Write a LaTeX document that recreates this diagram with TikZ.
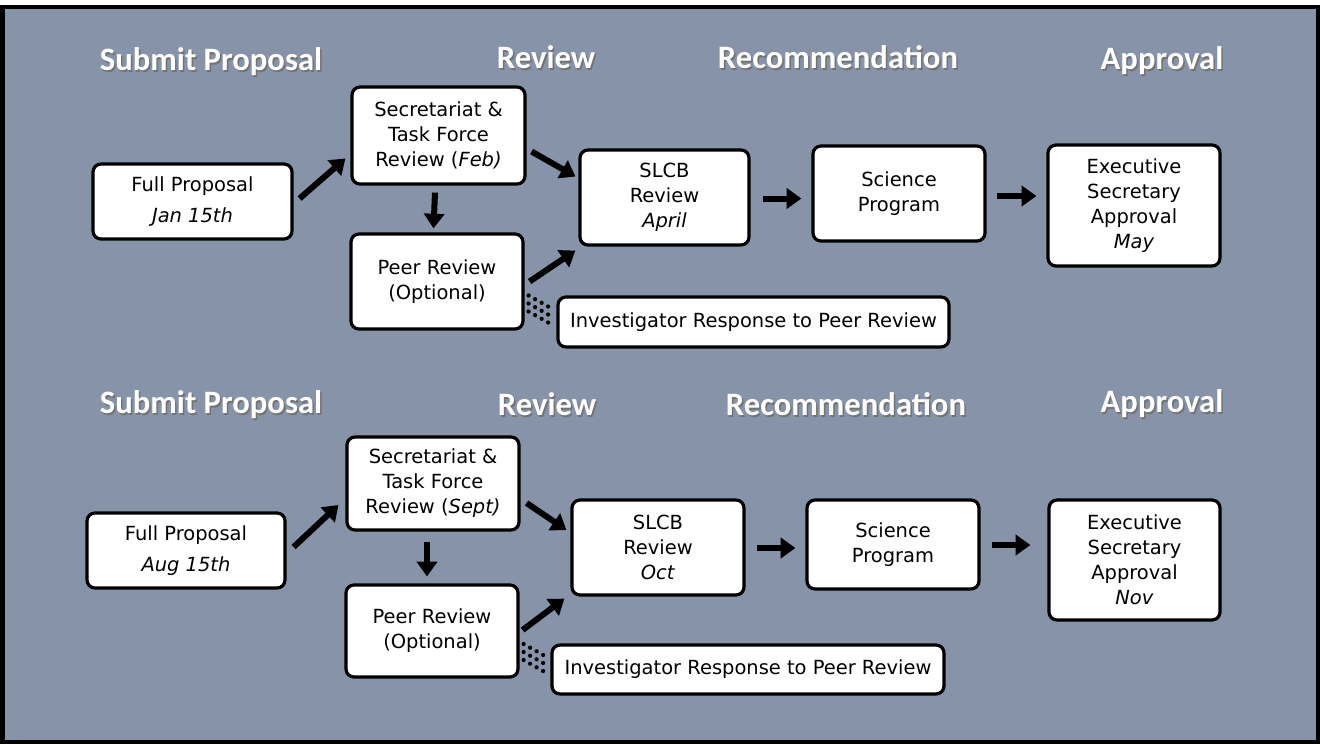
\documentclass[tikz,border=0pt]{standalone}
\usepackage{fontspec}
\setmainfont{DejaVu Sans}
\newfontfamily\hdrfont{Carlito}
\usetikzlibrary{arrows.meta,calc}
\definecolor{bg}{RGB}{134,147,169}
\begin{document}
\begin{tikzpicture}[x=0.75pt,y=-0.75pt,
 box/.style={draw=black, fill=white, line width=2.4pt, rounded corners=6pt, align=center, inner sep=0pt, font=\fontsize{14.6}{18.75}\selectfont},
 hdr/.style={text=white, font=\hdrfont\bfseries\fontsize{24.5}{28}\selectfont, inner sep=0pt},
 hsh/.style={text=black!55, font=\hdrfont\bfseries\fontsize{24.5}{28}\selectfont, inner sep=0pt},
 arr/.style={line width=4.5pt, -{Triangle[length=11pt,width=15pt]}},
 dotln/.style={line width=3.2pt, line cap=round, dash pattern=on 0pt off 5.6pt}]
\useasboundingbox (0,0) rectangle (1320,744);
\fill[white] (0,0) rectangle (1320,744);
\filldraw[fill=bg, draw=black, line width=3pt] (2.5,7) rectangle (1317.5,741.5);

% headers with shadow
\foreach \n/\x/\y/\t in {h1/211/62/Submit Proposal, h2/546/57/Review, h3/838/57/Recommendation, h4/1162/61/Approval,
  h5/211/405/Submit Proposal, h6/547/404/Review, h7/846/404/Recommendation, h8/1162/404/Approval}{
  \node[hsh] (\n s) at (\x+1.5,\y+2) {\t};
  \node[hdr] (\n) at (\x,\y) {\t};
}

% ---------- top panel ----------
\node[box, minimum width=149.25pt, minimum height=56.25pt] (full) at (192.5,201.5) {Full Proposal\\[5pt]\textit{Jan 15th}};
\node[box, minimum width=129.75pt, minimum height=72.75pt] (sec) at (438.5,135.5) {Secretariat \&\\Task Force\\Review (\textit{Feb)}};
\node[box, minimum width=129pt, minimum height=71.25pt] (peer) at (437,281.5) {Peer Review\\(Optional)};
\node[box, minimum width=126.75pt, minimum height=71.25pt] (slcb) at (664.5,197.5) {SLCB\\Review\\\textit{April}};
\node[box, minimum width=129pt, minimum height=71.25pt] (sci) at (899,193.5) {Science\\Program};
\node[box, minimum width=129pt, minimum height=90.75pt] (exec) at (1134,205.5) {Executive\\Secretary\\Approval\\\textit{May}};
\node[box, minimum width=293.25pt, minimum height=37.5pt] (inv) at (753.5,322) {Investigator Response to Peer Review};

\draw[arr] ([shift={(6,-3)}]full.east) -- ([shift={(-5,23)}]sec.west);
\draw[arr] ([shift={(5,16)}]sec.east) -- ([shift={(-3,-21)}]slcb.west);
\draw[arr] ([shift={(-3.5,7)}]sec.south) -- ([shift={(-3.5,-4)}]peer.north);
\draw[arr] ([shift={(5,0)}]peer.east) -- ([shift={(-3,4)}]slcb.south west);
\draw[arr] ([shift={(12,1)}]slcb.east) -- ([shift={(-10,5)}]sci.west);
\draw[arr] ([shift={(10,2.5)}]sci.east) -- ([shift={(-10,-9.5)}]exec.west);
\draw[dotln] ([shift={(4,14)}]peer.east) -- ([shift={(-2,-12)}]inv.west);
\draw[dotln] ([shift={(4,22)}]peer.east) -- ([shift={(-2,-4)}]inv.west);
\draw[dotln] ([shift={(4,30)}]peer.east) -- ([shift={(-2,4)}]inv.west);

% ---------- bottom panel ----------
\node[box, minimum width=148.5pt, minimum height=56.25pt] (full2) at (186,550.5) {Full Proposal\\[5pt]\textit{Aug 15th}};
\node[box, minimum width=129pt, minimum height=69.75pt] (sec2) at (433,483.5) {Secretariat \&\\Task Force\\Review (\textit{Sept)}};
\node[box, minimum width=129pt, minimum height=69pt] (peer2) at (432,631) {Peer Review\\(Optional)};
\node[box, minimum width=129pt, minimum height=71.25pt] (slcb2) at (658,547.5) {SLCB\\Review\\\textit{Oct}};
\node[box, minimum width=129pt, minimum height=66.75pt] (sci2) at (893,544.5) {Science\\Program};
\node[box, minimum width=128.25pt, minimum height=90pt] (exec2) at (1134.5,560) {Executive\\Secretary\\Approval\\\textit{Nov}};
\node[box, minimum width=294pt, minimum height=36.75pt] (inv2) at (748,669.5) {Investigator Response to Peer Review};

\draw[arr] ([shift={(7,-3.5)}]full2.east) -- ([shift={(-7,21.5)}]sec2.west);
\draw[arr] ([shift={(6,19.5)}]sec2.east) -- ([shift={(-4,-17.5)}]slcb2.west);
\draw[arr] ([shift={(-6,10)}]sec2.south) -- ([shift={(-5,-7)}]peer2.north);
\draw[arr] ([shift={(3,-1)}]peer2.east) -- ([shift={(-6,2)}]slcb2.south west);
\draw[arr] ([shift={(11,0.5)}]slcb2.east) -- ([shift={(-10,3.5)}]sci2.west);
\draw[arr] ([shift={(11,0.5)}]sci2.east) -- ([shift={(-17,-15)}]exec2.west);
\draw[dotln] ([shift={(4,13)}]peer2.east) -- ([shift={(-2,-11.5)}]inv2.west);
\draw[dotln] ([shift={(4,21)}]peer2.east) -- ([shift={(-2,-3.5)}]inv2.west);
\draw[dotln] ([shift={(4,29)}]peer2.east) -- ([shift={(-2,4.5)}]inv2.west);
\end{tikzpicture}
\end{document}
